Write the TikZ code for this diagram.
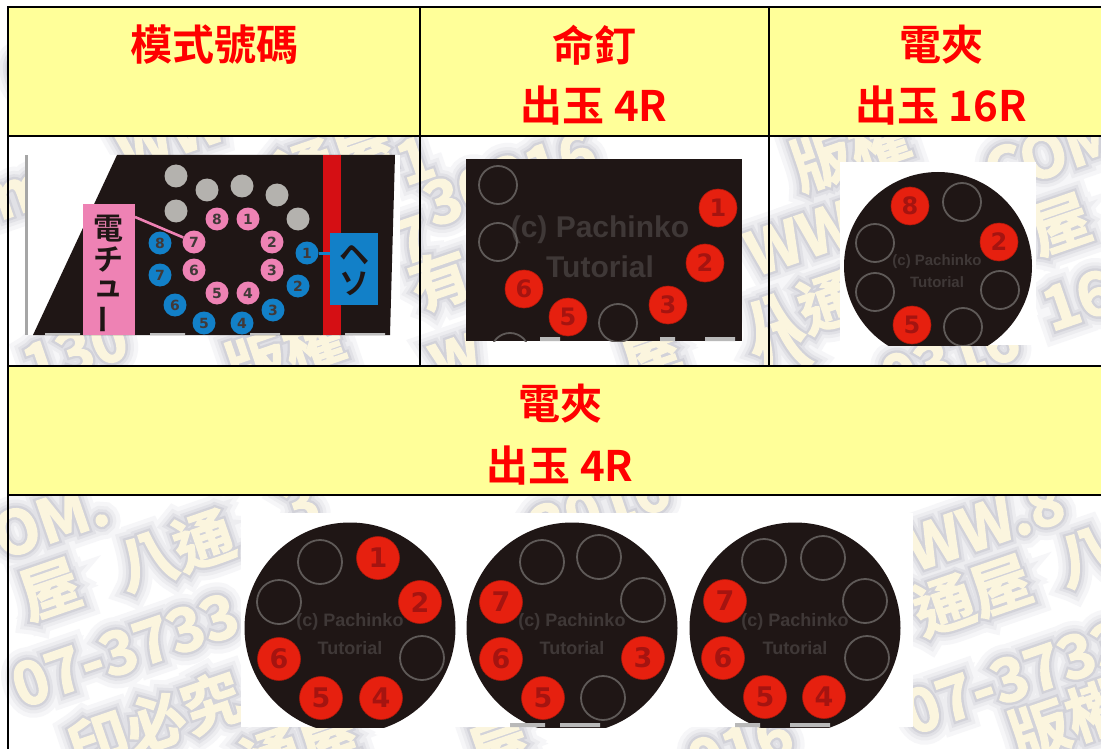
\documentclass[tikz,border=0pt]{standalone}
\usepackage{fontspec}
\setmainfont{Noto Sans CJK TC}
\newfontfamily\headf{Noto Sans CJK TC Bold}
\newfontfamily\jpf{Noto Sans CJK JP Bold}
\newfontfamily\ballf{DejaVu Sans Bold}
\newfontfamily\markf{Liberation Sans Bold}
\newfontfamily\wmA[FakeBold=44]{Noto Sans CJK TC Bold}
\newfontfamily\wmB[FakeBold=30]{Noto Sans CJK TC Bold}
\newfontfamily\wmC[FakeBold=19]{Noto Sans CJK TC Bold}
\newfontfamily\wmD[FakeBold=10]{Noto Sans CJK TC Bold}
\newfontfamily\wmE[FakeBold=2]{Noto Sans CJK TC Bold}
\definecolor{headyellow}{HTML}{FFFF99}
\definecolor{headred}{HTML}{FF0000}
\definecolor{panelblack}{HTML}{1F1615}
\definecolor{ballred}{HTML}{E6200F}
\definecolor{numred}{HTML}{A51410}
\definecolor{ringgray}{HTML}{5F5A58}
\definecolor{dotgray}{HTML}{B4B2AE}
\definecolor{pinkc}{HTML}{EE82B4}
\definecolor{bluec}{HTML}{1280C8}
\definecolor{stripred}{HTML}{D50F14}
\definecolor{cream}{HTML}{FBF5DE}
\definecolor{haloA}{HTML}{F6F6F8}
\definecolor{haloB}{HTML}{EDEDF0}
\definecolor{haloC}{HTML}{E1E1E6}
\definecolor{haloD}{HTML}{D2D2D9}
\tikzset{
  x=1pt,y=-1pt,
  wmtext/.style={rotate=19,inner sep=0pt},
  headcell/.style={draw=black,line width=1.4pt,fill=headyellow},
  headtext/.style={text=headred,inner sep=0pt,font=\headf\fontsize{42}{42}\selectfont},
  redball/.style 2 args={circle,fill=ballred,draw=ballred!75!black,line width=.6pt,minimum size=#1pt,inner sep=0pt,text=numred,font=\ballf\fontsize{#2}{#2}\selectfont},
  ring/.style={circle,draw=ringgray,line width=1.8pt,minimum size=#1,inner sep=0pt},
  smallball/.style={circle,minimum size=23pt,inner sep=0pt,text=panelblack!85!white,font=\ballf\fontsize{14}{14}\selectfont},
  pinkball/.style={smallball,fill=pinkc},
  blueball/.style={smallball,fill=bluec},
  grayball/.style={circle,fill=dotgray,minimum size=23pt,inner sep=0pt},
  marktext/.style={text=ringgray!50!panelblack,inner sep=0pt,font=\markf\fontsize{#1}{#1}\selectfont},
  bartext/.style={text=panelblack,inner sep=0pt,font=\jpf\fontsize{30}{30}\selectfont},
  scrap/.style={fill=gray!55!white,draw=none},
}
\newcommand{\wmitems}{%
  335/160/通屋, 170/135/WW, 22/195/m, 412/240/7, 285/352/版權, 75/352/130, 415/160/1,
  510/178/30316, 440/280/有, 455/355/w, 650/352/屋, 780/350/八,
  850/150/版權, 1050/153/COM, 800/238/WW, 1060/225/屋, 800/312/八通, 1078/300/16, 950/358/0316,
  50/520/OM., 175/550/八通, 50/590/屋, 125/650/07-3733, 155/722/印必究, 300/505/3, 600/508/3016,
  985/525/WW.8, 972/595/通屋, 1087/557/八, 1016/677/07-3733, 1068/720/版權,
  300/748/通屋, 500/748/屋, 740/748/016, 25/75/0}
\begin{document}
\begin{tikzpicture}
\useasboundingbox (0,0) rectangle (1101,749);
\fill[white] (0,0) rectangle (1101,749);
% watermark behind the table
\begin{scope}
\clip (0,0) rectangle (1101,749);
\foreach \wf/\wc in {\wmA/haloA,\wmB/haloB,\wmC/haloC,\wmD/haloD,\wmE/cream}{
  \foreach \px/\py/\pt [count=\pi] in \wmitems {
    \node[wmtext,text=\wc,font=\wf\fontsize{60}{60}\selectfont] (wm\pi) at (\px,\py) {\pt};
  }
}
\end{scope}
% table heads
\path[headcell] (8,7) rectangle (420,136);
\path[headcell] (420,7) rectangle (769,136);
\path[headcell] (769,7) rectangle (1103,136);
\path[headcell] (8,366) rectangle (1103,495);
\draw[line width=1.4pt] (8,136) -- (8,749);
\draw[line width=1.4pt] (420,136) -- (420,366);
\draw[line width=1.4pt] (769,136) -- (769,366);
\node[headtext] (h1) at (214,45) {模式號碼};
\node[headtext] (h2) at (594,45) {命釘};
\node[headtext] (h3) at (594,106) {出玉 4R};
\node[headtext] (h4) at (941,45) {電夾};
\node[headtext] (h5) at (941,106) {出玉 16R};
\node[headtext] (h6) at (560,404) {電夾};
\node[headtext] (h7) at (560,466) {出玉 4R};
% panel 1
\begin{scope}
\clip (25,155) rectangle (400,335);
\fill[white] (25,155) rectangle (400,335);
\fill[gray!70] (25,155) rectangle (28,335);
\fill[panelblack] (117,155) -- (395,155) -- (390,335) -- (33,335) -- cycle;
\fill[stripred] (323,155) rectangle (341,335);
\fill[pinkc] (83,204) rectangle (135,335);
\fill[bluec] (330,233) rectangle (378,305);
\node[bartext] (p1) at (108,229) {電};
\node[bartext] (p2) at (108,259) {チ};
\node[bartext] (p3) at (108,289) {ュ};
\node[bartext,rotate=90] (p4) at (108,319) {ー};
\node[bartext] (b1) at (354,255) {ヘ};
\node[bartext] (b2) at (354,284) {ソ};
\foreach \x/\y [count=\i] in {176/176,207/190,242/186,277/195,298/219,176/211}
  \node[grayball] (g\i) at (\x,\y) {};
\foreach \x/\y [count=\i] in {248/219,272/242,272/270,248/293,217/293,194/270,194/242,217/219}
  \node[pinkball] (pk\i) at (\x,\y) {\i};
\foreach \x/\y [count=\i] in {307/253,298/286,273/310,242/323,204/323,175/305,160/275,160/243}
  \node[blueball] (bl\i) at (\x,\y) {\i};
\coordinate (pinkedge) at (135,217);
\coordinate (blueedge) at (330,253);
\draw[pinkc,line width=2.6pt] (pinkedge) -- (pk7);
\draw[bluec,line width=3pt] (bl1) -- (blueedge);
\fill[gray!50] (45,333) rectangle (80,335) (150,333) rectangle (185,335) (250,333) rectangle (280,335) (345,333) rectangle (385,335);
\end{scope}
% panel 2
\begin{scope}
\clip (466,159) rectangle (742,341);
\fill[panelblack] (466,159) rectangle (742,341);
\node[marktext=30] (m1) at (600,230) {(c) Pachinko};
\node[marktext=30] (m2) at (600,267) {Tutorial};
\foreach \x/\y [count=\i] in {498/185,498/242,618/323,510/352}
  \node[ring=38pt] (rb\i) at (\x,\y) {};
\foreach \x/\y/\n in {718/208/1,705/263/2,668/305/3,568/317/5,524/289/6}
  \node[redball={38}{24}] (rp\n) at (\x,\y) {\n};
\fill[scrap] (660,337) rectangle (675,341) (705,337) rectangle (735,341) (540,337) rectangle (560,341);
\end{scope}
% panel 3
\begin{scope}
\clip (840,162) rectangle (1036,345);
\fill[white] (840,162) rectangle (1036,345);
\fill[panelblack] (938,266) circle (94);
\node[marktext=15] (m3) at (937,262) {(c) Pachinko};
\node[marktext=15] (m4) at (937,282) {Tutorial};
\foreach \x/\y [count=\i] in {962/202,875/243,875/292,1000/290,963/327}
  \node[ring=38pt] (rc\i) at (\x,\y) {};
\foreach \x/\y/\n in {910/206/8,999/242/2,912/325/5}
  \node[redball={38}{24}] (rq\n) at (\x,\y) {\n};
\end{scope}
% bottom panel
\begin{scope}
\clip (241,513) rectangle (913,727);
\fill[white] (241,513) rectangle (913,727);
\foreach \cx in {350,572,795}{
  \fill[panelblack] (\cx,628) circle (105.5);
  \node[marktext=18] (mk\cx a) at (\cx,622) {(c) Pachinko};
  \node[marktext=18] (mk\cx b) at (\cx,648) {Tutorial};
}
\foreach \x/\y [count=\i] in {320/562,279/602,422/658,542/562,599/557,643/600,603/698,764/561,823/558,865/601,867/658}
  \node[ring=44pt] (rd\i) at (\x,\y) {};
\foreach \x/\y/\n [count=\i] in {378/558/1,420/602/2,381/698/4,321/698/5,279/659/6,501/602/7,501/659/6,643/658/3,543/698/5,725/601/7,723/658/6,765/697/5,824/697/4}
  \node[redball={43}{27}] (rr\i) at (\x,\y) {\n};
\fill[scrap] (510,723) rectangle (545,727) (560,723) rectangle (600,727) (735,723) rectangle (760,727) (790,723) rectangle (830,727);
\end{scope}
\end{tikzpicture}
\end{document}
